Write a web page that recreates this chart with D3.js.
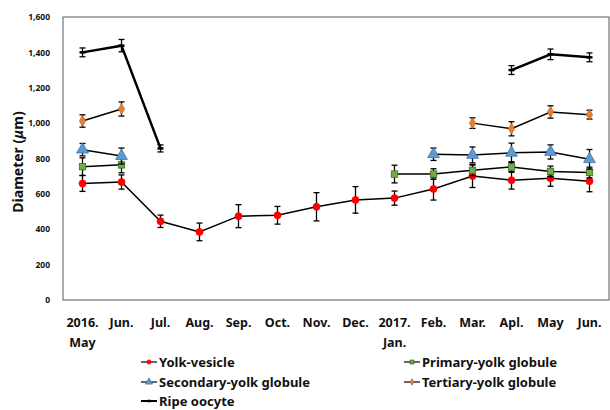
<!DOCTYPE html>
<html>
<head>
<meta charset="utf-8">
<script src="https://cdn.jsdelivr.net/npm/d3@7"></script>
<style>
  body { margin: 0; background: #fff; }
  text { font-family: "Noto Sans", "Open Sans", sans-serif; font-weight: bold; fill: #111; }
</style>
</head>
<body>
<svg width="610" height="410"></svg>
<script>
const months = ['2016.|May', 'Jun.', 'Jul.', 'Aug.', 'Sep.', 'Oct.', 'Nov.', 'Dec.',
  '2017.|Jan.', 'Feb.', 'Mar.', 'Apl.', 'May', 'Jun.'];
const yTicks = [0, 200, 400, 600, 800, 1000, 1200, 1400, 1600];

// mean, sd (null = no data)
const yolkVesicle = [659, 667, 445, 385, 474, 479, 527, 566, 576, 628, 701, 677, 688, 672];
const yolkVesicleSd = [45, 40, 35, 50, 65, 50, 80, 75, 40, 63, 65, 50, 45, 60];
const primary = [754, 764, null, null, null, null, null, null, 712, 712, 733, 752, 727, 721];
const primarySd = [50, 45, null, null, null, null, null, null, 50, 30, 30, 30, 30, 30];
const secondary = [850, 814, null, null, null, null, null, null, null, 824, 820, 832, 837, 796];
const secondarySd = [35, 45, null, null, null, null, null, null, null, 35, 45, 55, 40, 55];
const tertiary = [1012, 1080, null, null, null, null, null, null, null, null, 1000, 968, 1063, 1048];
const tertiarySd = [35, 40, null, null, null, null, null, null, null, null, 30, 40, 35, 25];
const ripe = [1400, 1438, 857, null, null, null, null, null, null, null, null, 1300, 1389, 1372];
const ripeSd = [25, 35, 20, null, null, null, null, null, null, null, null, 25, 30, 25];

const series = [
  { name: 'Yolk-vesicle', values: yolkVesicle, sd: yolkVesicleSd, shape: 'circle', fill: '#ff0000', stroke: '#ff0000', lw: 1.5 },
  { name: 'Primary-yolk globule', values: primary, sd: primarySd, shape: 'square', fill: '#70ad47', stroke: '#3b6e22', lw: 1.5 },
  { name: 'Secondary-yolk globule', values: secondary, sd: secondarySd, shape: 'triangle', fill: '#5b9bd5', stroke: '#41719c', lw: 1.5 },
  { name: 'Tertiary-yolk globule', values: tertiary, sd: tertiarySd, shape: 'diamond', fill: '#ed7d31', stroke: '#ae5a21', lw: 1.5 },
  { name: 'Ripe oocyte', values: ripe, sd: ripeSd, shape: 'dash', fill: '#000', stroke: '#000', lw: 2.5 }
];

const svg = d3.select('svg');
const margin = { left: 63, top: 17, right: 1, bottom: 110 };
const width = 610 - margin.left - margin.right;
const height = 410 - margin.top - margin.bottom;

const g = svg.append('g').attr('transform', `translate(${margin.left},${margin.top})`);

const x = d3.scaleBand().domain(d3.range(months.length)).range([0, width]);
const y = d3.scaleLinear().domain([0, 1600]).range([height, 0]);

// frame
g.append('rect')
  .attr('width', width).attr('height', height)
  .attr('fill', 'none').attr('stroke', '#595959').attr('stroke-width', 1);

// y axis
const yAxis = g.append('g')
  .call(d3.axisLeft(y).tickValues(yTicks).tickFormat(d3.format(',')).tickSize(0).tickPadding(13));
yAxis.select('.domain').remove();
yAxis.selectAll('text').style('font-size', '8.5px').style('font-family', '"Noto Sans", sans-serif');

// x axis
const xAxis = g.append('g')
  .attr('transform', `translate(0,${height})`)
  .call(d3.axisBottom(x).tickSize(0).tickPadding(0).tickFormat(''));
xAxis.select('.domain').remove();
xAxis.selectAll('.tick text').each(function (d) {
  const t = d3.select(this).attr('y', 0).attr('dy', null).attr('text-anchor', 'middle').style('font-size', '12.5px');
  months[d].split('|').forEach((line, i) => {
    t.append('tspan').attr('x', 0).attr('y', 27 + i * 20).text(line);
  });
});

// y title
svg.append('text')
  .attr('transform', 'translate(23,162) rotate(-90)')
  .attr('text-anchor', 'middle')
  .style('font-size', '14px')
  .call(t => {
    t.append('tspan').text('Diameter (');
    t.append('tspan').style('font-style', 'italic').text('μ');
    t.append('tspan').text('m)');
  });

const cx = i => x(i) + x.bandwidth() / 2;

function drawMarker(sel, s, px, py, scale = 1) {
  if (s.shape === 'circle') {
    sel.append('circle').attr('cx', px).attr('cy', py).attr('r', 3.5 * scale)
      .attr('fill', s.fill).attr('stroke', s.stroke).attr('stroke-width', 0.8);
  } else if (s.shape === 'square') {
    const h = 3.2 * scale;
    sel.append('rect').attr('x', px - h).attr('y', py - h).attr('width', 2 * h).attr('height', 2 * h)
      .attr('fill', s.fill).attr('stroke', s.stroke).attr('stroke-width', 0.8);
  } else if (s.shape === 'triangle') {
    const sym = d3.symbol().type(d3.symbolTriangle).size(60 * scale * scale);
    sel.append('path').attr('d', sym()).attr('transform', `translate(${px},${py})`)
      .attr('fill', s.fill).attr('stroke', s.stroke).attr('stroke-width', 0.8);
  } else if (s.shape === 'diamond') {
    const sym = d3.symbol().type(d3.symbolDiamond).size(34 * scale * scale);
    sel.append('path').attr('d', sym()).attr('transform', `translate(${px},${py})`)
      .attr('fill', s.fill).attr('stroke', s.stroke).attr('stroke-width', 0.6);
  } else {
    sel.append('line').attr('x1', px - 3 * scale).attr('x2', px + 3 * scale).attr('y1', py).attr('y2', py)
      .attr('stroke', '#000').attr('stroke-width', 2.5);
  }
}

series.forEach(s => {
  const pts = s.values.map((v, i) => ({ i, v, sd: s.sd[i] }));
  const line = d3.line().defined(d => d.v != null).x(d => cx(d.i)).y(d => y(d.v));
  g.append('path').datum(pts).attr('d', line)
    .attr('fill', 'none').attr('stroke', '#000').attr('stroke-width', s.lw);

  const valid = pts.filter(d => d.v != null);
  const eb = g.append('g').attr('stroke', '#000').attr('stroke-width', 1.3);
  valid.forEach(d => {
    eb.append('line').attr('x1', cx(d.i)).attr('x2', cx(d.i)).attr('y1', y(d.v - d.sd)).attr('y2', y(d.v + d.sd));
    [d.v - d.sd, d.v + d.sd].forEach(e => {
      eb.append('line').attr('x1', cx(d.i) - 3).attr('x2', cx(d.i) + 3).attr('y1', y(e)).attr('y2', y(e));
    });
  });
  const mk = g.append('g');
  valid.forEach(d => drawMarker(mk, s, cx(d.i), y(d.v)));
});

// legend
const legendPos = [[141, 362], [404, 362], [141, 382], [404, 382], [141, 401]];
series.forEach((s, k) => {
  const [lx, ly] = legendPos[k];
  const lg = svg.append('g');
  lg.append('line').attr('x1', lx).attr('x2', lx + 16).attr('y1', ly).attr('y2', ly)
    .attr('stroke', '#000').attr('stroke-width', s.shape === 'dash' ? 2 : 1.2);
  drawMarker(lg, s, lx + 8, ly, 0.6);
  lg.append('text').attr('x', lx + 18).attr('y', ly).attr('dy', '0.35em')
    .style('font-size', '13px').text(s.name);
});
</script>
</body>
</html>
